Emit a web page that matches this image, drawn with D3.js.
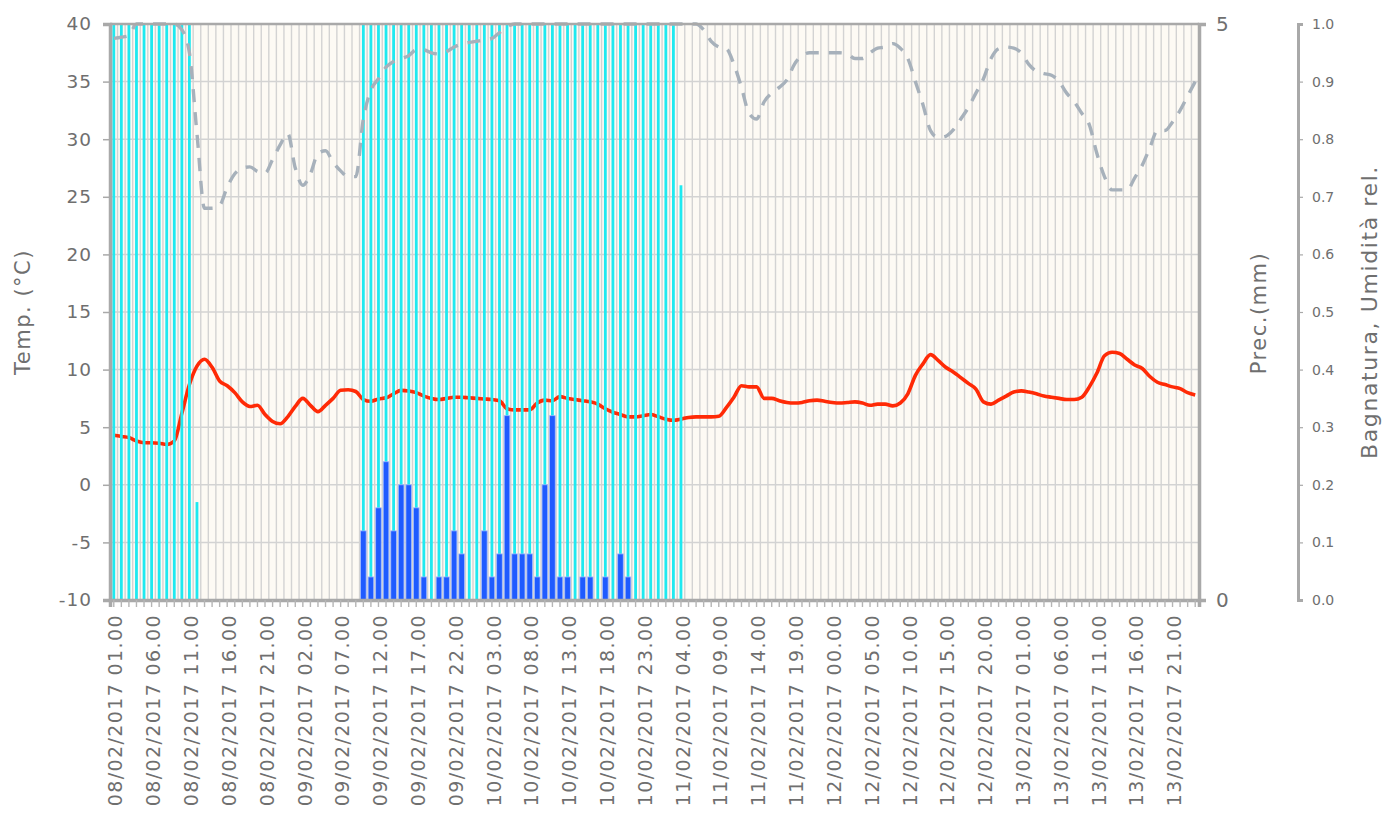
<!DOCTYPE html>
<html><head><meta charset="utf-8">
<script src="https://cdn.jsdelivr.net/npm/d3@7"></script>
<style>html,body{margin:0;padding:0;background:#fff;} svg{display:block;font-family:"DejaVu Sans",sans-serif;}</style>
</head><body><svg id="c" width="1383" height="814"></svg>
<script>
// ---- data ----
const hours = d3.timeHour.range(new Date(2017,1,8,1), new Date(2017,1,14,1)); // 144 hourly categories
const fmt = d3.timeFormat("%d/%m/%Y %H.%M");
const categories = hours.map(fmt);

const temperature = [
4.3,4.2,4.1,3.8,3.65,3.65,3.6,3.5,3.8,6.2,
8.7,10.3,10.9,10.2,9.0,8.6,8.0,7.2,6.8,6.9,
6.1,5.5,5.3,5.9,6.8,7.5,6.9,6.35,6.9,7.5,
8.2,8.25,8.1,7.4,7.25,7.45,7.55,7.9,8.2,8.15,
8.0,7.7,7.5,7.4,7.5,7.6,7.6,7.55,7.5,7.45,
7.4,7.3,6.6,6.5,6.5,6.5,7.1,7.35,7.3,7.65,
7.5,7.4,7.3,7.2,7.0,6.6,6.3,6.1,5.9,5.9,
6.0,6.1,5.9,5.7,5.6,5.7,5.85,5.9,5.9,5.9,
5.95,6.7,7.6,8.6,8.5,8.5,7.5,7.5,7.3,7.15,
7.1,7.15,7.3,7.35,7.25,7.15,7.1,7.15,7.2,7.1,
6.9,7.0,7.0,6.85,7.1,7.9,9.5,10.5,11.3,10.8,
10.2,9.8,9.3,8.8,8.3,7.2,7.0,7.35,7.7,8.05,
8.15,8.05,7.9,7.7,7.6,7.5,7.4,7.4,7.6,8.5,
9.7,11.2,11.5,11.4,10.9,10.4,10.1,9.4,8.9,8.7,
8.5,8.35,8.0,7.8
];

const humidity = [
0.975,0.977,0.98,1,1,1,1,1,1,0.99,
0.95,0.81,0.68,0.68,0.685,0.717,0.74,0.75,0.752,0.744,
0.741,0.765,0.79,0.81,0.75,0.72,0.74,0.775,0.78,0.76,
0.745,0.735,0.735,0.835,0.885,0.905,0.925,0.935,0.94,0.945,
0.955,0.955,0.95,0.948,0.952,0.96,0.965,0.968,0.97,0.972,
0.975,0.985,0.995,1,1,1,1,1,1,1,
1,1,1,1,1,1,1,1,1,1,
1,1,1,1,1,1,1,1,0.99,0.97,
0.96,0.957,0.93,0.89,0.845,0.835,0.865,0.88,0.89,0.903,
0.93,0.945,0.95,0.95,0.95,0.95,0.95,0.948,0.94,0.94,
0.95,0.958,0.96,0.966,0.958,0.94,0.9,0.86,0.815,0.803,
0.805,0.816,0.835,0.855,0.88,0.905,0.94,0.957,0.96,0.958,
0.95,0.93,0.918,0.914,0.911,0.9,0.88,0.865,0.845,0.825,
0.775,0.735,0.712,0.712,0.712,0.733,0.755,0.785,0.815,0.815,
0.83,0.85,0.875,0.9
];

const wetness = [
1,1,1,1,1,1,1,1,1,1,
1,0.17,0,0,0,0,0,0,0,0,
0,0,0,0,0,0,0,0,0,0,
0,0,0,1,1,1,1,1,1,1,
1,1,1,1,1,1,1,1,1,1,
1,1,1,1,1,1,1,1,1,1,
1,1,1,1,1,1,1,1,1,1,
1,1,1,1,1,0.72,0,0,0,0,
0,0,0,0,0,0,0,0,0,0,
0,0,0,0,0,0,0,0,0,0,
0,0,0,0,0,0,0,0,0,0,
0,0,0,0,0,0,0,0,0,0,
0,0,0,0,0,0,0,0,0,0,
0,0,0,0,0,0,0,0,0,0,
0,0,0,0
];

const precipitation = [
0,0,0,0,0,0,0,0,0,0,
0,0,0,0,0,0,0,0,0,0,
0,0,0,0,0,0,0,0,0,0,
0,0,0,0.6,0.2,0.8,1.2,0.6,1.0,1.0,
0.8,0.2,0,0.2,0.2,0.6,0.4,0,0,0.6,
0.2,0.4,1.6,0.4,0.4,0.4,0.2,1.0,1.6,0.2,
0.2,0,0.2,0.2,0,0.2,0,0.4,0.2,0,
0,0,0,0,0,0,0,0,0,0,
0,0,0,0,0,0,0,0,0,0,
0,0,0,0,0,0,0,0,0,0,
0,0,0,0,0,0,0,0,0,0,
0,0,0,0,0,0,0,0,0,0,
0,0,0,0,0,0,0,0,0,0,
0,0,0,0,0,0,0,0,0,0,
0,0,0,0
];

const tempTicks = [-10,-5,0,5,10,15,20,25,30,35,40];
const precTicks = [0,5];
const relTicks = [0,0.1,0.2,0.3,0.4,0.5,0.6,0.7,0.8,0.9,1.0];
const labelEvery = 5;

// ---- layout ----
const L = 110, R = 1199, T = 24, B = 600;
const svg = d3.select("#c");
const x = d3.scaleBand().domain(categories).range([L, R]).padding(0);
const yT = d3.scaleLinear().domain([-10, 40]).range([B, T]);
const yP = d3.scaleLinear().domain([0, 5]).range([B, T]);
const yR = d3.scaleLinear().domain([0, 1]).range([B, T]);
const cx = c => x(c) + x.bandwidth() / 2;
const AX = "#a9a9a9", GRID = "#d3d3d3", TXT = "#6f6f6f";

// background
svg.append("rect").attr("x", L).attr("y", T).attr("width", R - L).attr("height", B - T).attr("fill", "#fdfaf4");

// horizontal grid
svg.append("g").selectAll("line").data(tempTicks).join("line")
  .attr("x1", L).attr("x2", R).attr("y1", d => yT(d)).attr("y2", d => yT(d))
  .attr("stroke", GRID).attr("stroke-width", 1.5);

// vertical grid (category boundaries)
svg.append("g").selectAll("line").data(categories.slice(1)).join("line")
  .attr("x1", d => x(d)).attr("x2", d => x(d)).attr("y1", T).attr("y2", B)
  .attr("stroke", GRID).attr("stroke-width", 1.4);

// temperature line
svg.append("path").datum(temperature)
  .attr("fill", "none").attr("stroke", "#ff2a06").attr("stroke-width", 3.6)
  .attr("stroke-linejoin", "round")
  .attr("d", d3.line().x((d, i) => cx(categories[i])).y(d => yT(d)).curve(d3.curveMonotoneX));

// wetness bars (cyan)
svg.append("g").selectAll("rect").data(wetness.map((v, i) => ({v, c: categories[i]})).filter(d => d.v > 0)).join("rect")
  .attr("x", d => cx(d.c) - 1.4).attr("width", 2.8)
  .attr("y", d => yR(d.v)).attr("height", d => B - yR(d.v))
  .attr("fill", "#1fe9f0");

// precipitation bars (blue)
svg.append("g").selectAll("rect").data(precipitation.map((v, i) => ({v, c: categories[i]})).filter(d => d.v > 0)).join("rect")
  .attr("x", d => cx(d.c) - 2.8).attr("width", 5.6)
  .attr("y", d => yP(d.v)).attr("height", d => B - yP(d.v))
  .attr("fill", "#1f5bff").attr("stroke", "#9db8ff").attr("stroke-width", 0.8);

// humidity dashed line
svg.append("path").datum(humidity)
  .attr("fill", "none").attr("stroke", "#a7b1bb").attr("stroke-width", 3.4)
  .attr("stroke-dasharray", "13,10").attr("stroke-linecap", "butt")
  .attr("d", d3.line().x((d, i) => cx(categories[i])).y(d => yR(d)).curve(d3.curveMonotoneX));

// frame
svg.append("line").attr("x1", L).attr("x2", R).attr("y1", T).attr("y2", T).attr("stroke", AX).attr("stroke-width", 2.5);

// left axis
const gL = svg.append("g").attr("transform", `translate(${L},0)`)
  .call(d3.axisLeft(yT).tickValues(tempTicks).tickSize(7).tickPadding(11).tickFormat(d => String(d)));
gL.select(".domain").attr("stroke", AX).attr("stroke-width", 3.5);
gL.selectAll(".tick line").attr("stroke", AX).attr("stroke-width", 1.5);
gL.selectAll(".tick text").attr("fill", TXT).attr("font-size", 18.5).attr("letter-spacing", 1).attr("font-family", "DejaVu Sans");

// right precipitation axis
const gP = svg.append("g").attr("transform", `translate(${R},0)`)
  .call(d3.axisRight(yP).tickValues(precTicks).tickSize(7).tickPadding(10).tickFormat(d => String(d)));
gP.select(".domain").attr("stroke", AX).attr("stroke-width", 3.5);
gP.selectAll(".tick line").attr("stroke", AX).attr("stroke-width", 1.5);
gP.selectAll(".tick text").attr("fill", TXT).attr("font-size", 20).attr("font-family", "DejaVu Sans");

// bottom axis
const gB = svg.append("g").attr("transform", `translate(0,${B})`)
  .call(d3.axisBottom(x).tickSize(7).tickFormat(""));
gB.select(".domain").attr("stroke", AX).attr("stroke-width", 3.5);
gB.selectAll(".tick line").attr("stroke", "#b5b5b5").attr("stroke-width", 1.4);

// x labels
svg.append("g").selectAll("text").data(categories.filter((c, i) => i % labelEvery === 0)).join("text")
  .attr("transform", d => `translate(${cx(d) + 2},614) rotate(-90)`)
  .attr("text-anchor", "end").attr("dy", "0.35em")
  .attr("fill", TXT).attr("font-size", 19).attr("letter-spacing", 1.4)
  .text(d => d);

// third axis (0-1)
const gR = svg.append("g").attr("transform", "translate(1298,0)")
  .call(d3.axisRight(yR).tickValues(relTicks).tickSize(5).tickPadding(9).tickFormat(d3.format(".1f")));
gR.select(".domain").attr("stroke", AX).attr("stroke-width", 3);
gR.selectAll(".tick line").attr("stroke", AX).attr("stroke-width", 1.2);
gR.selectAll(".tick text").attr("fill", TXT).attr("font-size", 14).attr("font-family", "DejaVu Sans");

// axis titles
const title = (txt, bx, cy, size, ls) => svg.append("text")
  .attr("transform", `translate(${bx},${cy}) rotate(-90)`)
  .attr("text-anchor", "middle").attr("fill", TXT).attr("font-size", size)
  .attr("letter-spacing", ls).text(txt);
title("Temp. (°C)", 30, 312, 21, 1.5);
title("Prec.(mm)", 1266, 313, 21, 1.5);
title("Bagnatura, Umidità rel.", 1377, 312, 22, 1.6);
</script></body></html>
